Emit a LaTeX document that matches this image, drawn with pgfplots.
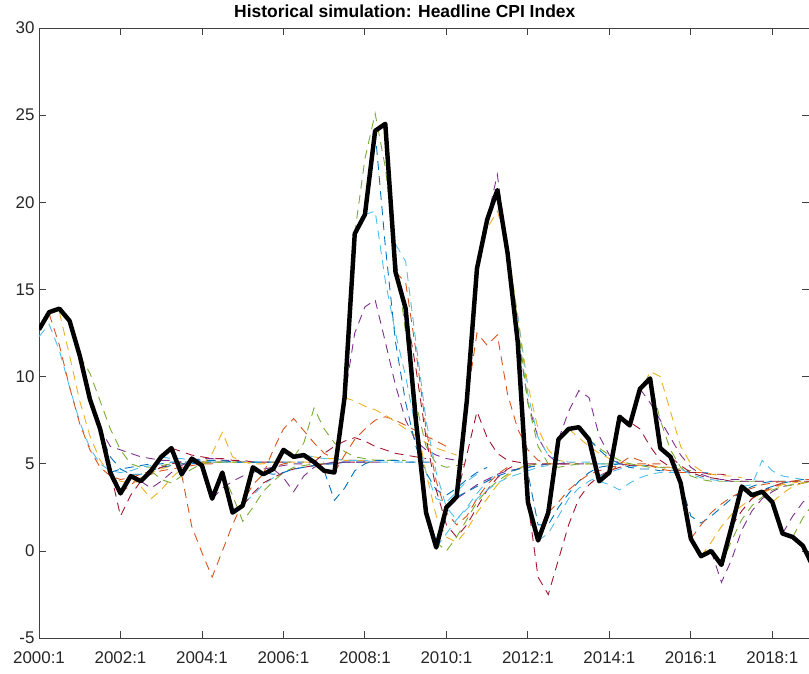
\documentclass[border=0pt]{standalone}
\usepackage{fontspec}
\setmainfont{Liberation Sans}
\usepackage{pgfplots}
\pgfplotsset{compat=1.18}
\usetikzlibrary{calc}
\definecolor{c1}{HTML}{0072BD}
\definecolor{c2}{HTML}{D95319}
\definecolor{c3}{HTML}{EDB120}
\definecolor{c4}{HTML}{7E2F8E}
\definecolor{c5}{HTML}{77AC30}
\definecolor{c6}{HTML}{4DBEEE}
\definecolor{c7}{HTML}{A2142F}
\definecolor{axgray}{HTML}{404040}
\definecolor{labgray}{HTML}{262626}
\pgfplotsset{fc/.style={color=#1, line width=0.5pt, dash pattern=on 5pt off 3.5pt, forget plot}}
\begin{document}
\begin{tikzpicture}
\begin{axis}[
  scale only axis, width=432.2pt, height=342.5pt,
  xmin=0, xmax=75.6, ymin=-5, ymax=30,
  xtick={0,8,16,24,32,40,48,56,64,72},
  xticklabels={2000:1,2002:1,2004:1,2006:1,2008:1,2010:1,2012:1,2014:1,2016:1,2018:1},
  ytick={-5,0,5,10,15,20,25,30},
  yticklabels={-5,0,5,10,15,20,25,30},
  tick align=inside, major tick length=4pt,
  axis line style={axgray, line width=0.5pt},
  tick style={axgray, line width=0.5pt},
  ticklabel style={font=\fontsize{9.5}{11}\selectfont, text=labgray},
  yticklabel style={xshift=1pt},
  xticklabel style={yshift=-4pt},
  title={Historical simulation: Headline CPI Index},
  title style={font=\fontsize{9.8}{11}\selectfont\bfseries, at={(0.475,1)}, anchor=south, yshift=-4pt},
]
\coordinate (bl) at (rel axis cs:0,0);
\coordinate (tr) at (rel axis cs:1,1);
% forecasts
\addplot[fc=c6] coordinates {(0,12.3)(1,13.0)(2,11.5)(3,9.4)(4,7.4)(5,5.9)(6,5.0)(7,4.6)(8,4.5)(9,4.6)(10,4.8)(11,4.9)};
\addplot[fc=c2] coordinates {(1,13.6)(2,11.8)(3,9.4)(4,7.3)(5,5.8)(6,4.8)(7,4.3)(8,4.1)(9,4.2)(10,4.4)(11,4.6)(12,4.8)};
\addplot[fc=c3] coordinates {(2,13.7)(3,11.2)(4,8.6)(5,6.6)(6,5.2)(7,4.4)(8,4.0)(9,3.9)(10,4.2)(11,4.5)(12,4.7)(13,4.9)};
\addplot[fc=c4] coordinates {(3,13.0)(4,11.0)(5,8.8)(6,7.0)(7,6.0)(8,5.8)(9,5.6)(10,5.4)(11,5.3)(12,5.2)(13,5.2)(14,5.1)};
\addplot[fc=c5] coordinates {(4,11.2)(5,10.2)(6,8.6)(7,7.0)(8,5.8)(9,5.0)(10,4.8)(11,4.8)(12,4.9)(13,5.0)(14,5.0)(15,5.1)};
\addplot[fc=c1] coordinates {(5,8.7)(6,6.8)(7,5.4)(8,4.7)(9,4.4)(10,4.4)(11,4.6)(12,4.8)(13,4.9)(14,5.0)(15,5.0)(16,5.1)};
\addplot[fc=c7] coordinates {(6,7.0)(7,4.6)(8,2.0)(9,3.2)(10,4.0)(11,4.5)(12,4.8)(13,5.0)(14,5.1)(15,5.1)(16,5.1)(17,5.1)};
\addplot[fc=c1] coordinates {(7,4.5)(8,4.7)(9,4.8)(10,4.9)(11,5.0)(12,5.0)(13,5.1)(14,5.1)(15,5.1)(16,5.1)(17,5.1)(18,5.1)};
\addplot[fc=c2] coordinates {(8,3.3)(9,3.8)(10,4.2)(11,4.4)(12,4.6)(13,4.7)(14,4.8)(15,4.9)(16,5.0)(17,5.0)(18,5.1)(19,5.1)};
\addplot[fc=c3] coordinates {(9,4.3)(10,3.7)(11,3.0)(12,3.5)(13,4.2)(14,4.7)(15,5.0)(16,5.1)(17,5.1)(18,5.1)(19,5.1)(20,5.1)};
\addplot[fc=c4] coordinates {(10,4.0)(11,3.6)(12,4.0)(13,4.5)(14,4.9)(15,5.2)(16,5.3)(17,5.3)(18,5.2)(19,5.2)(20,5.1)(21,5.1)};
\addplot[fc=c5] coordinates {(11,4.6)(12,4.1)(13,3.9)(14,4.3)(15,4.7)(16,5.0)(17,5.1)(18,5.1)(19,5.1)(20,5.1)(21,5.1)(22,5.1)};
\addplot[fc=c6] coordinates {(12,5.4)(13,5.3)(14,5.3)(15,5.2)(16,5.2)(17,5.1)(18,5.1)(19,5.1)(20,5.1)(21,5.1)(22,5.1)(23,5.1)};
\addplot[fc=c7] coordinates {(13,5.9)(14,5.7)(15,5.5)(16,5.4)(17,5.3)(18,5.3)(19,5.2)(20,5.2)(21,5.1)(22,5.1)(23,5.1)(24,5.1)};
\addplot[fc=c2] coordinates {(14,4.4)(15,1.4)(16,-0.1)(17,-1.5)(18,0.0)(19,1.5)(20,2.8)(21,3.8)(22,4.4)(23,4.8)(24,5.0)(25,5.1)};
\addplot[fc=c1] coordinates {(15,5.3)(16,5.2)(17,5.2)(18,5.2)(19,5.1)(20,5.1)(21,5.1)(22,5.1)(23,5.1)(24,5.1)(25,5.1)(26,5.1)};
\addplot[fc=c3] coordinates {(16,4.9)(17,5.6)(18,6.8)(19,5.4)(20,5.1)(21,5.0)(22,5.0)(23,5.1)(24,5.1)(25,5.1)(26,5.1)(27,5.1)};
\addplot[fc=c4] coordinates {(17,3.0)(18,3.6)(19,4.0)(20,4.3)(21,4.5)(22,4.7)(23,4.8)(24,4.9)(25,5.0)(26,5.0)(27,5.1)(28,5.1)};
\addplot[fc=c5] coordinates {(18,4.5)(19,3.2)(20,1.7)(21,2.5)(22,3.4)(23,4.0)(24,4.5)(25,4.8)(26,4.9)(27,5.0)(28,5.0)(29,5.1)};
\addplot[fc=c6] coordinates {(19,2.2)(20,2.7)(21,3.2)(22,3.8)(23,4.2)(24,4.5)(25,4.7)(26,4.8)(27,4.9)(28,5.0)(29,5.0)(30,5.1)};
\addplot[fc=c7] coordinates {(20,2.6)(21,3.3)(22,3.9)(23,4.2)(24,4.5)(25,4.7)(26,4.8)(27,4.9)(28,5.0)(29,5.0)(30,5.1)(31,5.1)};
\addplot[fc=c1] coordinates {(21,4.8)(22,4.5)(23,4.4)(24,4.5)(25,4.7)(26,4.8)(27,4.9)(28,5.0)(29,5.0)(30,5.1)(31,5.1)(32,5.1)};
\addplot[fc=c2] coordinates {(22,4.4)(23,5.8)(24,7.0)(25,7.6)(26,6.9)(27,6.2)(28,5.6)(29,5.3)(30,5.2)(31,5.2)(32,5.1)(33,5.1)};
\addplot[fc=c4] coordinates {(23,4.7)(24,4.2)(25,3.4)(26,4.3)(27,4.8)(28,5.0)(29,5.1)(30,5.1)(31,5.1)(32,5.1)(33,5.1)(34,5.1)};
\addplot[fc=c3] coordinates {(24,5.8)(25,5.6)(26,5.5)(27,5.4)(28,5.3)(29,5.3)(30,5.2)(31,5.2)(32,5.2)(33,5.2)(34,5.2)(35,5.2)};
\addplot[fc=c5] coordinates {(25,5.4)(26,6.2)(27,8.2)(28,7.0)(29,6.2)(30,5.7)(31,5.4)(32,5.3)(33,5.2)(34,5.2)(35,5.2)(36,5.2)};
\addplot[fc=c6] coordinates {(26,5.5)(27,5.4)(28,5.3)(29,5.3)(30,5.2)(31,5.2)(32,5.2)(33,5.1)(34,5.1)(35,5.1)(36,5.1)(37,5.1)};
\addplot[fc=c7] coordinates {(27,5.1)(28,5.6)(29,6.0)(30,6.3)(31,6.5)(32,6.3)(33,6.0)(34,5.8)(35,5.6)(36,5.5)(37,5.4)(38,5.3)};
\addplot[fc=c1] coordinates {(28,4.6)(29,2.9)(30,3.6)(31,4.6)(32,5.0)(33,5.2)(34,5.2)(35,5.2)(36,5.1)(37,5.1)(38,5.1)(39,5.1)};
\addplot[fc=c2] coordinates {(29,4.5)(30,5.5)(31,6.4)(32,7.0)(33,7.5)(34,7.7)(35,7.5)(36,7.2)(37,6.9)(38,6.6)(39,6.3)(40,6.0)};
\addplot[fc=c4] coordinates {(30,8.8)(31,12.5)(32,14.0)(33,14.4)(34,12.0)(35,9.5)(36,7.5)(37,6.3)(38,5.8)(39,5.5)(40,5.3)(41,5.2)};
\addplot[fc=c3] coordinates {(30,8.8)(31,8.6)(32,8.3)(33,8.1)(34,7.8)(35,7.4)(36,7.0)(37,6.6)(38,6.2)(39,5.9)(40,5.7)(41,5.5)};
\addplot[fc=c5] coordinates {(31,18.2)(32,22.5)(33,25.1)(34,22.0)(35,17.0)(36,12.5)(37,8.5)(38,6.0)(39,5.0)(40,4.8)(41,4.9)(42,5.0)};
\addplot[fc=c6] coordinates {(32,19.3)(33,19.5)(34,15.5)(35,12.5)(36,10.0)(37,7.0)(38,4.5)(39,3.0)(40,2.8)(41,3.4)(42,4.0)(43,4.4)};
\addplot[fc=c1] coordinates {(33,24.1)(34,17.5)(35,12.0)(36,8.5)(37,6.0)(38,4.5)(39,3.5)(40,3.2)(41,3.6)(42,4.1)(43,4.5)(44,4.8)};
\addplot[fc=c6] coordinates {(34,24.5)(35,17.6)(36,16.6)(37,12.0)(38,7.5)(39,4.5)(40,2.5)(41,1.8)(42,2.5)(43,3.3)(44,4.0)(45,4.5)};
\addplot[fc=c2] coordinates {(35,16.0)(36,15.4)(37,11.5)(38,7.0)(39,4.0)(40,2.2)(41,1.5)(42,2.0)(43,3.0)(44,3.8)(45,4.4)(46,4.8)};
\addplot[fc=c7] coordinates {(36,13.9)(37,10.5)(38,6.5)(39,3.5)(40,1.5)(41,0.8)(42,1.5)(43,2.5)(44,3.5)(45,4.2)(46,4.7)(47,5.0)};
\addplot[fc=c3] coordinates {(37,7.5)(38,4.5)(39,2.0)(40,0.8)(41,0.5)(42,1.2)(43,2.2)(44,3.0)(45,3.8)(46,4.3)(47,4.7)(48,5.0)};
\addplot[fc=c5] coordinates {(38,2.2)(39,0.5)(40,0.0)(41,0.8)(42,1.8)(43,2.8)(44,3.5)(45,4.0)(46,4.4)(47,4.7)(48,4.9)(49,5.0)};
\addplot[fc=c6] coordinates {(39,0.2)(40,1.0)(41,1.8)(42,2.4)(43,3.0)(44,3.5)(45,3.9)(46,4.2)(47,4.4)(48,4.6)(49,4.8)(50,4.9)};
\addplot[fc=c4] coordinates {(40,2.5)(41,3.0)(42,3.4)(43,3.8)(44,4.1)(45,4.4)(46,4.6)(47,4.7)(48,4.8)(49,4.9)(50,5.0)(51,5.0)};
\addplot[fc=c1] coordinates {(41,3.1)(42,3.4)(43,3.7)(44,4.0)(45,4.3)(46,4.5)(47,4.7)(48,4.8)(49,4.9)(50,5.0)(51,5.0)(52,5.1)};
\addplot[fc=c7] coordinates {(41,3.1)(42,5.5)(43,8.0)(44,6.5)(45,5.6)(46,5.2)(47,5.1)(48,5.0)(49,5.0)(50,5.0)(51,5.0)(52,5.0)};
\addplot[fc=c2] coordinates {(42,8.6)(43,12.5)(44,11.8)(45,12.4)(46,9.0)(47,7.0)(48,5.8)(49,5.2)(50,5.0)(51,5.0)(52,5.0)(53,5.0)};
\addplot[fc=c3] coordinates {(43,16.2)(44,18.5)(45,19.5)(46,17.5)(47,13.5)(48,9.5)(49,7.0)(50,5.8)(51,5.2)(52,5.1)(53,5.0)(54,5.0)};
\addplot[fc=c4] coordinates {(44,19.0)(45,21.6)(46,17.0)(47,12.5)(48,8.5)(49,6.5)(50,5.5)(51,5.0)(52,5.0)(53,5.0)(54,5.0)(55,5.0)};
\addplot[fc=c5] coordinates {(45,20.7)(46,17.6)(47,13.0)(48,8.5)(49,6.0)(50,5.0)(51,4.8)(52,4.9)(53,5.0)(54,5.0)(55,5.0)(56,5.0)};
\addplot[fc=c6] coordinates {(46,17.1)(47,13.5)(48,9.0)(49,6.5)(50,5.5)(51,5.2)(52,5.1)(53,5.1)(54,5.1)(55,5.0)(56,5.0)(57,5.0)};
\addplot[fc=c1] coordinates {(47,12.0)(48,4.5)(49,1.5)(50,1.5)(51,2.5)(52,3.3)(53,4.0)(54,4.5)(55,4.8)(56,4.9)(57,5.0)(58,5.0)};
\addplot[fc=c7] coordinates {(48,2.8)(49,-1.5)(50,-2.5)(51,-0.5)(52,1.5)(53,3.0)(54,3.8)(55,4.3)(56,4.6)(57,4.8)(58,4.9)(59,4.9)};
\addplot[fc=c6] coordinates {(49,0.6)(50,1.0)(51,2.0)(52,3.0)(53,3.6)(54,4.0)(55,4.3)(56,4.5)(57,4.7)(58,4.8)(59,4.9)(60,4.9)};
\addplot[fc=c2] coordinates {(50,2.2)(51,2.8)(52,3.5)(53,4.0)(54,4.4)(55,4.6)(56,4.8)(57,4.9)(58,5.0)(59,5.0)(60,5.0)(61,5.0)};
\addplot[fc=c4] coordinates {(51,6.4)(52,8.0)(53,9.2)(54,8.8)(55,6.6)(56,5.5)(57,5.0)(58,4.9)(59,4.9)(60,4.9)(61,4.8)(62,4.8)};
\addplot[fc=c3] coordinates {(52,7.0)(53,6.5)(54,6.0)(55,5.6)(56,5.3)(57,5.1)(58,5.0)(59,4.9)(60,4.9)(61,4.8)(62,4.8)(63,4.7)};
\addplot[fc=c5] coordinates {(53,7.1)(54,6.4)(55,5.9)(56,5.5)(57,5.2)(58,5.0)(59,4.9)(60,4.8)(61,4.8)(62,4.7)(63,4.7)(64,4.6)};
\addplot[fc=c1] coordinates {(54,6.4)(55,5.8)(56,5.3)(57,5.0)(58,4.8)(59,4.7)(60,4.7)(61,4.6)(62,4.6)(63,4.6)(64,4.5)(65,4.5)};
\addplot[fc=c6] coordinates {(55,4.0)(56,3.8)(57,3.5)(58,3.9)(59,4.2)(60,4.4)(61,4.5)(62,4.5)(63,4.5)(64,4.5)(65,4.5)(66,4.5)};
\addplot[fc=c2] coordinates {(56,4.5)(57,5.0)(58,5.4)(59,5.2)(60,4.9)(61,4.7)(62,4.6)(63,4.5)(64,4.5)(65,4.5)(66,4.4)(67,4.4)};
\addplot[fc=c7] coordinates {(57,7.7)(58,7.4)(59,7.0)(60,6.0)(61,5.2)(62,4.8)(63,4.6)(64,4.5)(65,4.5)(66,4.4)(67,4.4)(68,4.3)};
\addplot[fc=c3] coordinates {(58,7.2)(59,9.0)(60,10.3)(61,10.0)(62,8.0)(63,6.0)(64,5.0)(65,4.6)(66,4.4)(67,4.3)(68,4.3)(69,4.2)};
\addplot[fc=c4] coordinates {(59,9.3)(60,8.5)(61,7.5)(62,6.5)(63,5.5)(64,4.8)(65,4.4)(66,4.2)(67,4.1)(68,4.1)(69,4.1)(70,4.1)};
\addplot[fc=c5] coordinates {(60,9.9)(61,7.5)(62,5.8)(63,4.8)(64,4.3)(65,4.1)(66,4.0)(67,4.0)(68,4.0)(69,4.0)(70,4.0)(71,4.0)};
\addplot[fc=c6] coordinates {(61,5.9)(62,5.2)(63,4.7)(64,4.4)(65,4.2)(66,4.1)(67,4.0)(68,4.0)(69,4.0)(70,4.0)(71,4.0)(72,4.0)};
\addplot[fc=c7] coordinates {(62,5.4)(63,4.9)(64,4.5)(65,4.3)(66,4.2)(67,4.1)(68,4.0)(69,4.0)(70,4.0)(71,4.0)(72,4.0)(73,4.0)};
\addplot[fc=c1] coordinates {(63,3.9)(64,2.0)(65,1.6)(66,2.0)(67,2.5)(68,3.0)(69,3.4)(70,3.7)(71,3.9)(72,4.0)(73,4.0)(74,4.0)};
\addplot[fc=c2] coordinates {(64,0.7)(65,1.5)(66,2.2)(67,2.7)(68,3.1)(69,3.4)(70,3.6)(71,3.8)(72,3.9)(73,4.0)(74,4.0)(75,4.0)};
\addplot[fc=c3] coordinates {(65,-0.3)(66,0.5)(67,1.4)(68,2.1)(69,2.6)(70,3.0)(71,3.3)(72,3.6)(73,3.8)(74,3.9)(75,4.0)(76,4.0)};
\addplot[fc=c4] coordinates {(66,0.0)(67,-1.8)(68,-0.5)(69,1.2)(70,2.3)(71,3.0)(72,3.4)(73,3.7)(74,3.8)(75,3.9)(76,4.0)};
\addplot[fc=c5] coordinates {(67,-0.8)(68,0.6)(69,1.8)(70,2.6)(71,3.1)(72,3.5)(73,3.7)(74,3.8)(75,3.9)(76,4.0)};
\addplot[fc=c7] coordinates {(68,1.4)(69,2.3)(70,3.0)(71,3.4)(72,3.7)(73,3.9)(74,4.0)(75,4.0)(76,4.0)};
\addplot[fc=c6] coordinates {(69,3.7)(70,3.8)(71,5.2)(72,4.6)(73,4.3)(74,4.2)(75,4.1)(76,4.1)};
\addplot[fc=c1] coordinates {(70,3.2)(71,3.5)(72,3.7)(73,3.9)(74,4.0)(75,4.1)(76,4.1)};
\addplot[fc=c2] coordinates {(71,3.4)(72,3.6)(73,3.9)(74,4.0)(75,4.1)(76,4.1)};
\addplot[fc=c3] coordinates {(72,2.8)(73,3.3)(74,3.7)(75,3.9)(76,4.1)};
\addplot[fc=c4] coordinates {(73,1.0)(74,2.0)(75,2.8)(76,3.3)};
\addplot[fc=c5] coordinates {(74,0.8)(75,1.9)(76,2.7)};
% actual
\addplot[black, line width=2.5pt, line join=round] coordinates {
(0,12.7)(1,13.7)(2,13.9)(3,13.2)(4,11.2)(5,8.7)(6,7.0)(7,4.5)(8,3.3)(9,4.3)
(10,4.0)(11,4.6)(12,5.4)(13,5.9)(14,4.4)(15,5.3)(16,4.9)(17,3.0)(18,4.5)(19,2.2)
(20,2.6)(21,4.8)(22,4.4)(23,4.7)(24,5.8)(25,5.4)(26,5.5)(27,5.1)(28,4.6)(29,4.5)
(30,8.8)(31,18.2)(32,19.3)(33,24.1)(34,24.5)(35,16.0)(36,13.9)(37,7.5)(38,2.2)(39,0.2)
(40,2.5)(41,3.1)(42,8.6)(43,16.2)(44,19.0)(45,20.7)(46,17.1)(47,12.0)(48,2.8)(49,0.6)
(50,2.2)(51,6.4)(52,7.0)(53,7.1)(54,6.4)(55,4.0)(56,4.5)(57,7.7)(58,7.2)(59,9.3)
(60,9.9)(61,5.9)(62,5.4)(63,3.9)(64,0.7)(65,-0.3)(66,0.0)(67,-0.8)(68,1.4)(69,3.7)
(70,3.2)(71,3.4)(72,2.8)(73,1.0)(74,0.8)(75,0.3)(76,-0.9)};
\end{axis}
\pgfresetboundingbox
\useasboundingbox ($(bl)+(-21.9pt,-19.6pt)$) rectangle ($(tr)+(0pt,15.7pt)$);
\end{tikzpicture}
\end{document}
